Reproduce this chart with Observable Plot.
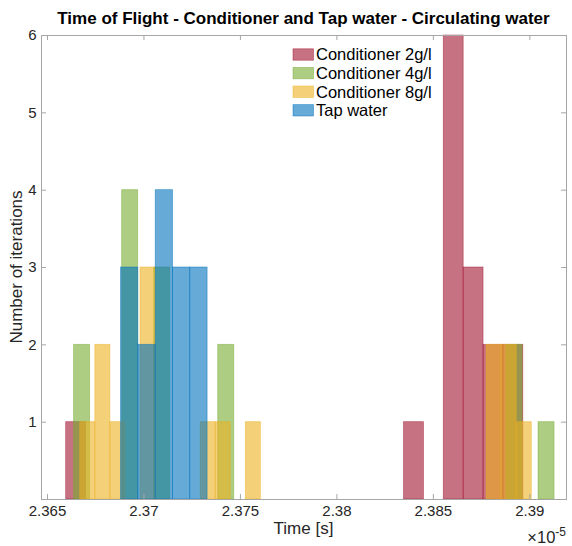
<!DOCTYPE html>
<html>
<head>
<meta charset="utf-8">
<script src="https://cdn.jsdelivr.net/npm/d3@7"></script>
<script src="https://cdn.jsdelivr.net/npm/@observablehq/plot@0.6"></script>
<style>
  html, body { margin: 0; padding: 0; background: #fff; }
  #chart svg { display: block; }
</style>
</head>
<body>
<div id="chart"></div>
<script>
// ---- data (x values in units of 1e-5 s) ----
const titleText = "Time of Flight - Conditioner and Tap water - Circulating water";
const xLabel = "Time [s]";
const yLabel = "Number of iterations";
const xTicks = [2.365, 2.37, 2.375, 2.38, 2.385, 2.39];
const yTicks = [1, 2, 3, 4, 5, 6];
const xDomain = [2.36469, 2.39190];
const yDomain = [0, 6];

const seriesNames = ["Conditioner 2g/l", "Conditioner 4g/l", "Conditioner 8g/l", "Tap water"];
const seriesColors = ["#A2142F", "#77AC30", "#EDB120", "#0072BD"];
const binWidths = [0.00103, 0.00083, 0.00078, 0.000898];

const cond2Left  = [2.36597, 2.38348, 2.38554, 2.38657, 2.38760, 2.38863];
const cond2Count = [1, 1, 6, 3, 2, 2];
const cond4Left  = [2.36638, 2.36887, 2.37053, 2.37385, 2.38879, 2.39045];
const cond4Count = [2, 4, 3, 2, 2, 1];
const cond8Left  = [2.36670, 2.36748, 2.36826, 2.36982, 2.37294, 2.37372, 2.37528, 2.38776, 2.38854, 2.38932];
const cond8Count = [1, 2, 1, 3, 1, 1, 1, 2, 2, 1];
const tapLeft    = [2.36881, 2.36971, 2.37061, 2.37150, 2.37240];
const tapCount   = [3, 2, 4, 3, 3];

const seriesLefts = [cond2Left, cond4Left, cond8Left, tapLeft];
const seriesCounts = [cond2Count, cond4Count, cond8Count, tapCount];

// ---- build tables ----
const tables = seriesNames.map((name, s) =>
  seriesLefts[s].map((x1, i) => ({ name, x1, x2: x1 + binWidths[s], count: seriesCounts[s][i] }))
);

const W = 572, H = 546;
const mL = 41, mR = 6, mT = 35, mB = 47;
const plotW = W - mL - mR, plotH = H - mT - mB;
const axisColor = "#a6a6a6";
const font = "'Liberation Sans', Arial, Helvetica, sans-serif";
const tickLen = 5;

const barMarks = tables.map((t, s) => Plot.rect(t, {
  x1: "x1", x2: "x2", y1: 0, y2: "count",
  fill: seriesColors[s], fillOpacity: 0.6,
  stroke: seriesColors[s], strokeOpacity: 0.55, strokeWidth: 0.8,
  inset: 0
}));

const chart = Plot.plot({
  width: W, height: H,
  marginLeft: mL, marginRight: mR, marginTop: mT, marginBottom: mB,
  style: { fontFamily: font, background: "#fff", color: "#262626" },
  x: { domain: xDomain, ticks: xTicks },
  y: { domain: yDomain, ticks: yTicks },
  marks: [
    ...barMarks,
    Plot.frame({ stroke: axisColor, strokeWidth: 1 }),
    Plot.tickX(xTicks, { x: d => d, insetTop: plotH - tickLen, stroke: axisColor }),
    Plot.tickX(xTicks, { x: d => d, insetBottom: plotH - tickLen, stroke: axisColor }),
    Plot.tickY(yTicks, { y: d => d, insetRight: plotW - tickLen, stroke: axisColor }),
    Plot.tickY(yTicks, { y: d => d, insetLeft: plotW - tickLen, stroke: axisColor }),
    Plot.axisX(xTicks, { tickSize: 0, tickPadding: 6, fontSize: 15, label: null, tickFormat: d => String(d), fill: "#262626" }),
    Plot.axisY(yTicks, { tickSize: 0, tickPadding: 5, fontSize: 15, label: null, tickFormat: d => String(d), fill: "#262626" })
  ]
});

document.getElementById("chart").appendChild(chart);

// ---- text and legend ----
const svg = d3.select(chart);
const g = svg.append("g").attr("font-family", font).attr("fill", "#000");

g.append("text")
  .attr("x", mL + plotW / 2).attr("y", 24)
  .attr("text-anchor", "middle")
  .attr("font-size", 17).attr("font-weight", "bold")
  .text(titleText);

g.append("text")
  .attr("x", mL + plotW / 2).attr("y", 534)
  .attr("text-anchor", "middle")
  .attr("font-size", 17).attr("fill", "#262626")
  .text(xLabel);

g.append("text")
  .attr("transform", `translate(22, ${mT + plotH / 2}) rotate(-90)`)
  .attr("text-anchor", "middle")
  .attr("font-size", 17).attr("fill", "#262626")
  .text(yLabel);

const mult = g.append("text")
  .attr("x", W - mR).attr("y", 543)
  .attr("text-anchor", "end")
  .attr("font-size", 16.5).attr("fill", "#262626");
mult.append("tspan").text("\u00d710");
mult.append("tspan").attr("dy", -7).attr("font-size", 12).text("-5");

const leg = g.append("g");
seriesNames.forEach((name, s) => {
  const y = 54.5 + s * 18.6;
  leg.append("rect")
    .attr("x", 293).attr("y", y - 5.7).attr("width", 20.5).attr("height", 11.4)
    .attr("fill", seriesColors[s]).attr("fill-opacity", 0.6)
    .attr("stroke", seriesColors[s]).attr("stroke-opacity", 0.55).attr("stroke-width", 0.8);
  leg.append("text")
    .attr("x", 316).attr("y", y).attr("dy", "0.36em")
    .attr("text-anchor", "start")
    .attr("font-size", 16.5).attr("fill", "#000")
    .text(name);
});
</script>
</body>
</html>
